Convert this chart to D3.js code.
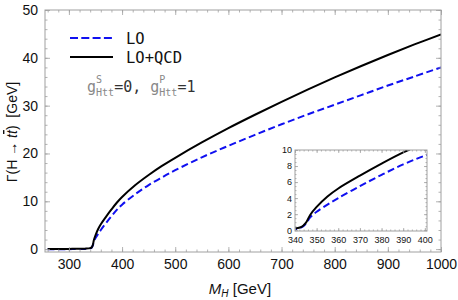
<!DOCTYPE html>
<html>
<head>
<meta charset="utf-8">
<script src="https://cdn.jsdelivr.net/npm/d3@7"></script>
<style>
  body { margin: 0; background: #fff; }
  svg { font-family: "Liberation Sans", Arial, sans-serif; }
</style>
</head>
<body>
<svg id="chart" width="458" height="300"></svg>
<script>
// Higgs mass (GeV) and widths (GeV)
const massH = [260, 300, 330, 340, 343, 345, 347, 350, 355, 360, 370, 380, 390, 400, 425, 450, 475, 500, 550, 600, 650, 700, 750, 800, 850, 900, 950, 1000];
const widthLO = [0, 0, 0.05, 0.15, 0.35, 0.8, 1.6, 2.3, 3.2, 4.0, 5.5, 6.9, 8.2, 9.3, 11.5, 13.4, 15.0, 16.5, 19.2, 21.6, 23.9, 26.1, 28.2, 30.2, 32.2, 34.2, 36.1, 38.0];
const widthQCD = [0.05, 0.05, 0.1, 0.2, 0.4, 0.9, 1.9, 2.9, 4.2, 5.2, 6.8, 8.3, 9.7, 10.9, 13.4, 15.5, 17.4, 19.1, 22.3, 25.3, 28.1, 30.8, 33.4, 35.9, 38.3, 40.6, 42.8, 44.9];

const mainXTicks = [300, 400, 500, 600, 700, 800, 900, 1000];
const mainYTicks = [0, 10, 20, 30, 40, 50];
const insetXTicks = [340, 350, 360, 370, 380, 390, 400];
const insetYTicks = [0, 2, 4, 6, 8, 10];

const legendLabels = ["LO", "LO+QCD"];

const svg = d3.select("#chart");
const frameColor = "#a0a0a0";

const lo = massH.map((m, i) => [m, widthLO[i]]);
const qcd = massH.map((m, i) => [m, widthQCD[i]]);

function range(a, b, step) {
    return d3.range(a, b + step / 2, step);
}

function drawFrame(g, x, y, opt) {
    const [x0, x1] = x.range();
    const [y0, y1] = y.range();
    const axes = [
        [d3.axisBottom, `translate(0,${y0})`, x, opt.xMajor, opt.xMinor, true],
        [d3.axisTop, `translate(0,${y1})`, x, opt.xMajor, opt.xMinor, false],
        [d3.axisLeft, `translate(${x0},0)`, y, opt.yMajor, opt.yMinor, true],
        [d3.axisRight, `translate(${x1},0)`, y, opt.yMajor, opt.yMinor, false]
    ];
    axes.forEach(([axisFn, tr, scale, major, minor, labelled]) => {
        g.append("g").attr("transform", tr)
            .call(axisFn(scale).tickValues(minor).tickSize(-opt.minor).tickFormat(""));
        const a = g.append("g").attr("transform", tr)
            .call(axisFn(scale).tickValues(major).tickSize(-opt.major)
                .tickPadding(axisFn === d3.axisBottom ? opt.padX : opt.pad)
                .tickFormat(labelled ? d3.format("d") : ""));
        a.selectAll("text").attr("font-size", opt.font).attr("fill", "#111")
            .attr("font-family", "Liberation Sans, Arial, sans-serif");
    });
    g.selectAll(".domain").remove();
    g.selectAll(".tick line").attr("stroke", frameColor).attr("stroke-width", 0.8);
    g.append("rect")
        .attr("x", x0).attr("y", y1)
        .attr("width", x1 - x0).attr("height", y0 - y1)
        .attr("fill", "none").attr("stroke", frameColor).attr("stroke-width", 1);
}

function drawCurves(g, x, y, clipId) {
    const line = d3.line().x(d => x(d[0])).y(d => y(d[1])).curve(d3.curveCatmullRom.alpha(0.5));
    const [x0, x1] = x.range();
    const [y0, y1] = y.range();
    svg.append("clipPath").attr("id", clipId).append("rect")
        .attr("x", x0).attr("y", y1).attr("width", x1 - x0).attr("height", y0 - y1);
    const c = g.append("g").attr("clip-path", `url(#${clipId})`);
    c.append("path").datum(lo).attr("d", line)
        .attr("fill", "none").attr("stroke", "#1010f0").attr("stroke-width", 2)
        .attr("stroke-dasharray", "7,3.5");
    c.append("path").datum(qcd).attr("d", line)
        .attr("fill", "none").attr("stroke", "#000").attr("stroke-width", 2);
}

// main panel
const x = d3.scaleLinear().domain([255, 1000]).range([45, 441]);
const y = d3.scaleLinear().domain([-0.6, 50]).range([252, 10]);

const main = svg.append("g");
drawCurves(main, x, y, "clipMain");
drawFrame(main, x, y, {
    xMajor: mainXTicks, xMinor: range(260, 1000, 20),
    yMajor: mainYTicks, yMinor: range(0, 50, 2),
    major: 5, minor: 2.5, pad: 7, padX: 7, font: 14
});

// axis labels
svg.append("text")
    .attr("x", 240).attr("y", 294)
    .attr("text-anchor", "middle").attr("font-size", 15).attr("fill", "#111")
    .call(t => {
        t.append("tspan").attr("font-style", "italic").text("M");
        t.append("tspan").attr("font-style", "italic").attr("font-size", 10).attr("dy", 3).text("H");
        t.append("tspan").attr("dy", -3).text(" [GeV]");
    });

svg.append("text")
    .attr("transform", "translate(17,132) rotate(-90)")
    .attr("text-anchor", "middle").attr("font-size", 14).attr("fill", "#111")
    .call(t => {
        t.append("tspan").text("\u0393(H \u2192 ");
        t.append("tspan").attr("font-style", "italic").text("t");
        t.append("tspan").attr("font-style", "italic")
            .style("text-decoration", "overline").text("t");
        t.append("tspan").text(")\u00a0\u00a0[GeV]");
    });

// legend
const legend = svg.append("g").attr("font-family", "DejaVu Sans Mono, monospace");
const legendY = [38, 57];
legendLabels.forEach((name, i) => {
    legend.append("line")
        .attr("x1", 70).attr("x2", 113).attr("y1", legendY[i]).attr("y2", legendY[i])
        .attr("stroke", i === 0 ? "#1010f0" : "#000").attr("stroke-width", 2)
        .attr("stroke-dasharray", i === 0 ? "8,3.3" : null);
    legend.append("text")
        .attr("x", 126).attr("y", legendY[i] + 6)
        .attr("font-size", 15.5).attr("fill", "#111").text(name);
});

// coupling note
const note = svg.append("text").attr("x", 87).attr("y", 92)
    .attr("font-family", "DejaVu Sans Mono, monospace").attr("font-size", 15).attr("fill", "#888");
function coupling(t, sup, val) {
    t.append("tspan").text("g");
    t.append("tspan").attr("font-size", 10).attr("dy", -9).text(sup);
    t.append("tspan").attr("font-size", 10).attr("dx", -6).attr("dy", 13).text("Htt");
    t.append("tspan").attr("dy", -4).attr("fill", "#333").text(val);
}
coupling(note, "S", "=0, ");
coupling(note, "P", "=1");

// inset
const xi = d3.scaleLinear().domain([340, 401]).range([295, 427]);
const yi = d3.scaleLinear().domain([-0.1, 10]).range([231, 150]);
const inset = svg.append("g");
inset.append("rect").attr("x", 295).attr("y", 150).attr("width", 132).attr("height", 81).attr("fill", "#fff");
drawCurves(inset, xi, yi, "clipInset");
drawFrame(inset, xi, yi, {
    xMajor: insetXTicks, xMinor: range(340, 400, 2),
    yMajor: insetYTicks, yMinor: range(0, 10, 0.5),
    major: 3, minor: 1.5, pad: 3, padX: 5.5, font: 9
});
</script>
</body>
</html>
